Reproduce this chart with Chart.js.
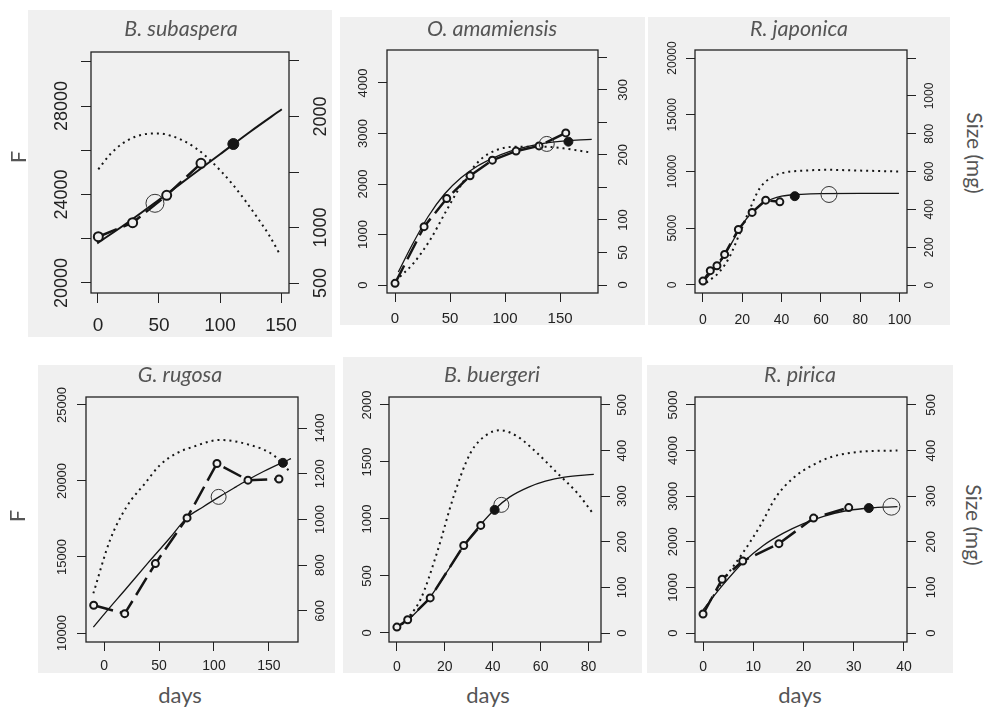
<!DOCTYPE html>
<html><head><meta charset="utf-8">
<script src="https://cdn.jsdelivr.net/npm/chart.js@4/dist/chart.umd.min.js"></script>
<style>
body{margin:0;width:989px;height:714px;background:#fff;position:relative;overflow:hidden;}
.panel{position:absolute;background:#f0f0f0;}
.panel canvas{position:absolute;left:0;top:0;}
.title{position:absolute;font-family:Lato,"Open Sans",sans-serif;font-style:italic;color:#555;font-size:21.5px;line-height:1;white-space:nowrap;transform:translateX(-50%);}
.lab{position:absolute;font-family:Lato,"Open Sans",sans-serif;color:#555;white-space:nowrap;line-height:1;}
</style></head><body>
<script>
// ===================== DATA =====================
// B. subaspera
const subaspera_obsDays = [0.3, 28.4, 56.3, 84.4];
const subaspera_obsSize = [917, 1043, 1290, 1578];
const subaspera_fitDays = [-0.6, 25, 50, 75, 100, 125, 150.6];
const subaspera_fitSize = [857, 1050, 1250, 1455, 1660, 1865, 2065];
const subaspera_fDays = [0.3, 10, 20, 30, 40, 50, 60, 70, 80, 90, 100, 110, 120, 130, 140, 148.6];
const subaspera_F = [25140, 25820, 26300, 26600, 26740, 26760, 26650, 26430, 26100, 25650, 25100, 24480, 23770, 23000, 22180, 21340];
const subaspera_filled = [110.9, 1752];
const subaspera_open = [46.7, 1218];
const subaspera_xTicks = [0, 50, 100, 150];
const subaspera_fTicks = [20000, 22000, 24000, 26000, 28000, 30000];
const subaspera_fLabels = [20000, 24000, 28000];
const subaspera_sizeTicks = [500, 1000, 1500, 2000, 2500];
const subaspera_sizeLabels = [500, 1000, 2000];

// O. amamiensis
const amamiensis_obsDays = [0, 26.4, 47, 68.2, 88.5, 110, 130.9, 155.2];
const amamiensis_obsSize = [2.6, 89.7, 133, 168, 192, 206, 214, 234];
const amamiensis_fitDays = [3, 15, 30, 45, 60, 75, 90, 105, 120, 135, 150, 165, 178.8];
const amamiensis_fitSize = [20, 60, 105, 140, 165, 183, 196, 206, 213, 218, 221, 223, 224];
const amamiensis_fDays = [4.5, 16.7, 31.8, 47, 62, 77.3, 92.4, 110.6, 131.8, 153, 178.8];
const amamiensis_F = [165, 429, 891, 1485, 2046, 2475, 2673, 2739, 2739, 2706, 2620];
const amamiensis_filled = [157.6, 220.5];
const amamiensis_open = [137.9, 217];
const amamiensis_xTicks = [0, 50, 100, 150];
const amamiensis_fTicks = [0, 1000, 2000, 3000, 4000];
const amamiensis_fLabels = [0, 1000, 2000, 3000, 4000];
const amamiensis_sizeTicks = [0, 50, 100, 150, 200, 250, 300, 350];
const amamiensis_sizeLabels = [0, 50, 100, 200, 300];

// R. japonica
const japonica_obsDays = [0, 3.7, 7.1, 11, 18, 25, 31.9, 39.1];
const japonica_obsSize = [21, 76, 102, 162, 294, 384, 449, 440];
const japonica_fitDays = [0, 5, 10, 15, 20, 25, 30, 35, 40, 50, 60, 80, 99.7];
const japonica_fitSize = [15, 75, 140, 230, 320, 385, 430, 455, 470, 480, 484, 485, 485];
const japonica_fDays = [1.7, 8.5, 13.6, 18.7, 23.8, 28.9, 35.7, 42.5, 52.7, 62.9, 78.2, 99.7];
const japonica_F = [206, 1176, 2500, 4559, 6676, 8529, 9559, 9941, 10088, 10147, 10088, 10000];
const japonica_filled = [46.7, 470];
const japonica_open = [64.1, 479];
const japonica_xTicks = [0, 20, 40, 60, 80, 100];
const japonica_fTicks = [0, 5000, 10000, 15000, 20000];
const japonica_fLabels = [0, 5000, 10000, 15000, 20000];
const japonica_sizeTicks = [0, 200, 400, 600, 800, 1000, 1200];
const japonica_sizeLabels = [0, 200, 400, 600, 800, 1000];

// G. rugosa
const rugosa_obsDays = [-9.4, 18.8, 46.7, 75.5, 102.7, 130.9, 159.1];
const rugosa_obsSize = [625, 588, 807, 1007, 1245, 1172, 1177];
const rugosa_fitDays = [-9.7, 0, 20, 40, 60, 75, 90, 105, 120, 131, 145, 162, 170];
const rugosa_fitSize = [529, 585, 697, 810, 920, 1006, 1055, 1100, 1143, 1174, 1210, 1249, 1266];
const rugosa_fDays = [-9.7, 5.5, 20.6, 37.3, 50.9, 66, 81.2, 105.5, 132.7, 153.9, 169];
const rugosa_F = [12612, 16118, 18309, 19850, 21053, 21824, 22257, 22700, 22370, 21711, 20613];
const rugosa_filled = [162.7, 1248];
const rugosa_open = [104.2, 1099];
const rugosa_xTicks = [0, 50, 100, 150];
const rugosa_fTicks = [10000, 15000, 20000, 25000];
const rugosa_fLabels = [10000, 15000, 20000, 25000];
const rugosa_sizeTicks = [600, 800, 1000, 1200, 1400];
const rugosa_sizeLabels = [600, 800, 1000, 1200, 1400];

// B. buergeri
const buergeri_obsDays = [0, 4.5, 13.9, 27.9, 35];
const buergeri_obsSize = [13, 29, 77, 192, 236];
const buergeri_fitDays = [0, 7, 14, 21, 28, 35, 41, 47, 55, 62, 70, 82.2];
const buergeri_fitSize = [11, 40, 80, 135, 192, 238, 272, 298, 320, 333, 342, 348];
const buergeri_fDays = [2.1, 9.8, 16.7, 23.7, 30.7, 37.6, 43.2, 50.2, 58.5, 66.9, 75.3, 82.2];
const buergeri_F = [73, 292, 702, 1199, 1579, 1740, 1778, 1725, 1579, 1404, 1228, 1038];
const buergeri_filled = [40.8, 270];
const buergeri_open = [43.6, 281];
const buergeri_xTicks = [0, 20, 40, 60, 80];
const buergeri_fTicks = [0, 500, 1000, 1500, 2000];
const buergeri_fLabels = [0, 500, 1000, 1500, 2000];
const buergeri_sizeTicks = [0, 100, 200, 300, 400, 500];
const buergeri_sizeLabels = [0, 100, 200, 300, 400, 500];

// R. pirica
const pirica_obsDays = [0, 3.8, 7.9, 15.1, 22, 29];
const pirica_obsSize = [41.6, 118, 158, 196, 252, 275];
const pirica_fitDays = [0, 4, 8, 12, 16, 20, 24, 28, 32, 36, 38.7];
const pirica_fitSize = [51, 106, 155, 192, 219, 240, 256, 267, 273, 276, 277];
const pirica_fDays = [0.7, 4.6, 7.9, 11.3, 14.6, 17.9, 21.9, 25.8, 29.8, 33.8, 38.7];
const pirica_F = [584, 1241, 1752, 2336, 2993, 3394, 3686, 3869, 3956, 3993, 4000];
const pirica_filled = [33, 274];
const pirica_open = [37.5, 277];
const pirica_xTicks = [0, 10, 20, 30, 40];
const pirica_fTicks = [0, 1000, 2000, 3000, 4000, 5000];
const pirica_fLabels = [0, 1000, 2000, 3000, 4000, 5000];
const pirica_sizeTicks = [0, 100, 200, 300, 400, 500];
const pirica_sizeLabels = [0, 100, 200, 300, 400, 500];

// ===================== LAYOUT =====================
const TICKFONT = '"Liberation Sans", Arial, sans-serif';
const panels = [
  {title:'B. subaspera', tx:181, tb:37,
   obs:[subaspera_obsDays, subaspera_obsSize], fit:[subaspera_fitDays, subaspera_fitSize], f:[subaspera_fDays, subaspera_F],
   filled:subaspera_filled, open:subaspera_open,
   xT:subaspera_xTicks, fT:subaspera_fTicks, fL:subaspera_fLabels, sT:subaspera_sizeTicks, sL:subaspera_sizeLabels,
   bg:[28,10,332,337], box:[91,52,289,293], xr:[-5.7,156.5], fr:[19548,30441], sr:[410,2581],
   tl:10, yFont:18, xFont:19, offL:29, offR:32, xLab:326, ptR:4.5, openR:9, fillR:5.5, fitW:2},
  {title:'O. amamiensis', tx:492, tb:37,
   obs:[amamiensis_obsDays, amamiensis_obsSize], fit:[amamiensis_fitDays, amamiensis_fitSize], f:[amamiensis_fDays, amamiensis_F],
   filled:amamiensis_filled, open:amamiensis_open,
   xT:amamiensis_xTicks, fT:amamiensis_fTicks, fL:amamiensis_fLabels, sT:amamiensis_sizeTicks, sL:amamiensis_sizeLabels,
   bg:[340,17,645,325], box:[387,50,598,293], xr:[-7.3,184.5], fr:[-158,4653], sr:[-12.3,361.5],
   tl:9, yFont:13, xFont:15, offL:24, offR:25, xLab:319, ptR:3.5, openR:7.5, fillR:4.5, fitW:1.3},
  {title:'R. japonica', tx:799, tb:37,
   obs:[japonica_obsDays, japonica_obsSize], fit:[japonica_fitDays, japonica_fitSize], f:[japonica_fDays, japonica_F],
   filled:japonica_filled, open:japonica_open,
   xT:japonica_xTicks, fT:japonica_fTicks, fL:japonica_fLabels, sT:japonica_sizeTicks, sL:japonica_sizeLabels,
   bg:[648,17,950,325], box:[695,50,907,293], xr:[-4.07,103.8], fr:[-705,20705], sr:[-42,1243],
   tl:9, yFont:12, xFont:14, offL:22, offR:23, xLab:320, ptR:3.5, openR:8, fillR:4.5, fitW:1.3},
  {title:'G. rugosa', tx:180, tb:383,
   obs:[rugosa_obsDays, rugosa_obsSize], fit:[rugosa_fitDays, rugosa_fitSize], f:[rugosa_fDays, rugosa_F],
   filled:rugosa_filled, open:rugosa_open,
   xT:rugosa_xTicks, fT:rugosa_fTicks, fL:rugosa_fLabels, sT:rugosa_sizeTicks, sL:rugosa_sizeLabels,
   bg:[38,365,335,673], box:[86,397,298,642], xr:[-16.4,176.4], fr:[9408,25526], sr:[464,1536],
   tl:9, yFont:13, xFont:14, offL:24, offR:22, xLab:666, ptR:3.5, openR:7.5, fillR:4.5, fitW:1.3},
  {title:'B. buergeri', tx:492, tb:383,
   obs:[buergeri_obsDays, buergeri_obsSize], fit:[buergeri_fitDays, buergeri_fitSize], f:[buergeri_fDays, buergeri_F],
   filled:buergeri_filled, open:buergeri_open,
   xT:buergeri_xTicks, fT:buergeri_fTicks, fL:buergeri_fLabels, sT:buergeri_sizeTicks, sL:buergeri_sizeLabels,
   bg:[343,357,642,673], box:[389,397,601,642], xr:[-3.3,85.2], fr:[-79,2070], sr:[-19.7,517.5],
   tl:9, yFont:13, xFont:14, offL:22, offR:21, xLab:667, ptR:3.5, openR:7.5, fillR:4.5, fitW:1.3},
  {title:'R. pirica', tx:800, tb:383,
   obs:[pirica_obsDays, pirica_obsSize], fit:[pirica_fitDays, pirica_fitSize], f:[pirica_fDays, pirica_F],
   filled:pirica_filled, open:pirica_open,
   xT:pirica_xTicks, fT:pirica_fTicks, fL:pirica_fLabels, sT:pirica_sizeTicks, sL:pirica_sizeLabels,
   bg:[647,365,953,673], box:[695,397,907,642], xr:[-1.6,40.6], fr:[-197,5175], sr:[-19.7,517.5],
   tl:9, yFont:13, xFont:14, offL:22, offR:24, xLab:667, ptR:3.5, openR:8.5, fillR:4.5, fitW:1.3}
];

const mctx = document.createElement('canvas').getContext('2d');
function widest(labels, size){
  mctx.font = 'normal ' + size + 'px ' + TICKFONT;
  let w = 0; labels.forEach(l => { w = Math.max(w, mctx.measureText(String(l)).width); });
  return w;
}
const pts = (xs, ys) => xs.map((x, i) => ({x: x, y: ys[i]}));

const boxPlugin = {id:'box', afterDraw(chart){
  const {ctx, chartArea:a} = chart;
  ctx.save(); ctx.strokeStyle = '#222'; ctx.lineWidth = 1.3;
  ctx.strokeRect(a.left, a.top, a.right - a.left, a.bottom - a.top);
  ctx.restore();
}};

const INK = '#151515';
const BG = '#f0f0f0';

panels.forEach(p => {
  const W = p.bg[2] - p.bg[0], H = p.bg[3] - p.bg[1];
  const L = p.box[0] - p.bg[0], T = p.box[1] - p.bg[1], R = p.bg[2] - p.box[2], B = p.bg[3] - p.box[3];
  const wrap = document.createElement('div'); wrap.className = 'panel';
  Object.assign(wrap.style, {left:p.bg[0]+'px', top:p.bg[1]+'px', width:W+'px', height:H+'px'});
  const cv = document.createElement('canvas'); cv.width = W; cv.height = H;
  cv.style.width = W+'px'; cv.style.height = H+'px';
  wrap.appendChild(cv); document.body.appendChild(wrap);

  const t = document.createElement('div'); t.className = 'title'; t.textContent = p.title;
  t.style.left = p.tx + 'px'; t.style.top = (p.tb - 19) + 'px';
  document.body.appendChild(t);

  const padL = p.offL - p.tl - widest(p.fL, p.yFont) / 2;
  const padR = p.offR - p.tl - widest(p.sL, p.yFont) / 2;
  const padX = p.xLab - p.box[3] - p.tl - 0.6 * p.xFont;
  const grid = {display:true, drawOnChartArea:false, drawTicks:true, tickLength:p.tl, color:'#222', lineWidth:1};

  new Chart(cv, {
    type:'line',
    data:{datasets:[
      {data:[{x:p.filled[0], y:p.filled[1]}], yAxisID:'yR', showLine:false, pointRadius:p.fillR, pointBackgroundColor:INK, pointBorderColor:INK, pointBorderWidth:1},
      {data:[{x:p.open[0], y:p.open[1]}], yAxisID:'yR', showLine:false, pointRadius:p.openR, pointBackgroundColor:'rgba(0,0,0,0)', pointBorderColor:'#333', pointBorderWidth:1},
      {data:pts(p.obs[0], p.obs[1]), yAxisID:'yR', borderColor:INK, borderWidth:2.5, borderDash:[20,7], tension:0,
       pointRadius:p.ptR, pointBorderWidth:2, pointBorderColor:INK, pointBackgroundColor:BG},
      {data:pts(p.fit[0], p.fit[1]), yAxisID:'yR', borderColor:INK, borderWidth:p.fitW, pointRadius:0, cubicInterpolationMode:'monotone'},
      {data:pts(p.f[0], p.f[1]), yAxisID:'yL', borderColor:INK, borderWidth:2, borderDash:[2,4], borderCapStyle:'butt', pointRadius:0, cubicInterpolationMode:'monotone'}
    ]},
    options:{
      responsive:false, animation:false, devicePixelRatio:1,
      layout:{padding:{top:T, left:0, right:0, bottom:0}},
      plugins:{legend:{display:false}, tooltip:{enabled:false}},
      scales:{
        x:{type:'linear', position:'bottom', min:p.xr[0], max:p.xr[1], bounds:'data',
          afterBuildTicks:a => { a.ticks = p.xT.map(v => ({value:v})); },
          afterFit:a => { a.height = B; },
          grid:grid, border:{display:false},
          ticks:{autoSkip:false, maxRotation:0, padding:padX, color:'#222', font:{family:TICKFONT, size:p.xFont}, callback:v => String(v)}},
        yL:{type:'linear', position:'left', min:p.fr[0], max:p.fr[1], bounds:'data',
          afterBuildTicks:a => { a.ticks = p.fT.map(v => ({value:v})); },
          afterFit:a => { a.width = L; },
          grid:grid, border:{display:false},
          ticks:{autoSkip:false, minRotation:90, maxRotation:90, crossAlign:'center', padding:padL, color:'#222',
            font:{family:TICKFONT, size:p.yFont}, callback:v => p.fL.includes(v) ? String(v) : ''}},
        yR:{type:'linear', position:'right', min:p.sr[0], max:p.sr[1], bounds:'data',
          afterBuildTicks:a => { a.ticks = p.sT.map(v => ({value:v})); },
          afterFit:a => { a.width = R; },
          grid:grid, border:{display:false},
          ticks:{autoSkip:false, minRotation:90, maxRotation:90, crossAlign:'center', padding:padR, color:'#222',
            font:{family:TICKFONT, size:p.yFont}, callback:v => p.sL.includes(v) ? String(v) : ''}}
      }
    },
    plugins:[boxPlugin]
  });
});

// outer axis titles
function lab(text, cx, cy, size, rot){
  const d = document.createElement('div'); d.className = 'lab'; d.textContent = text;
  d.style.fontSize = size + 'px'; d.style.left = cx + 'px'; d.style.top = cy + 'px';
  d.style.transform = 'translate(-50%,-50%)' + (rot ? ' rotate(' + rot + 'deg)' : '');
  document.body.appendChild(d);
}
lab('F', 18, 157, 22, -90);
lab('F', 17, 516, 22, -90);
lab('Size (mg)', 975, 153, 21, 90);
lab('Size (mg)', 974, 525, 21, 90);
lab('days', 180, 695, 22, 0);
lab('days', 488, 695, 22, 0);
lab('days', 800, 695, 22, 0);
</script>
</body></html>
